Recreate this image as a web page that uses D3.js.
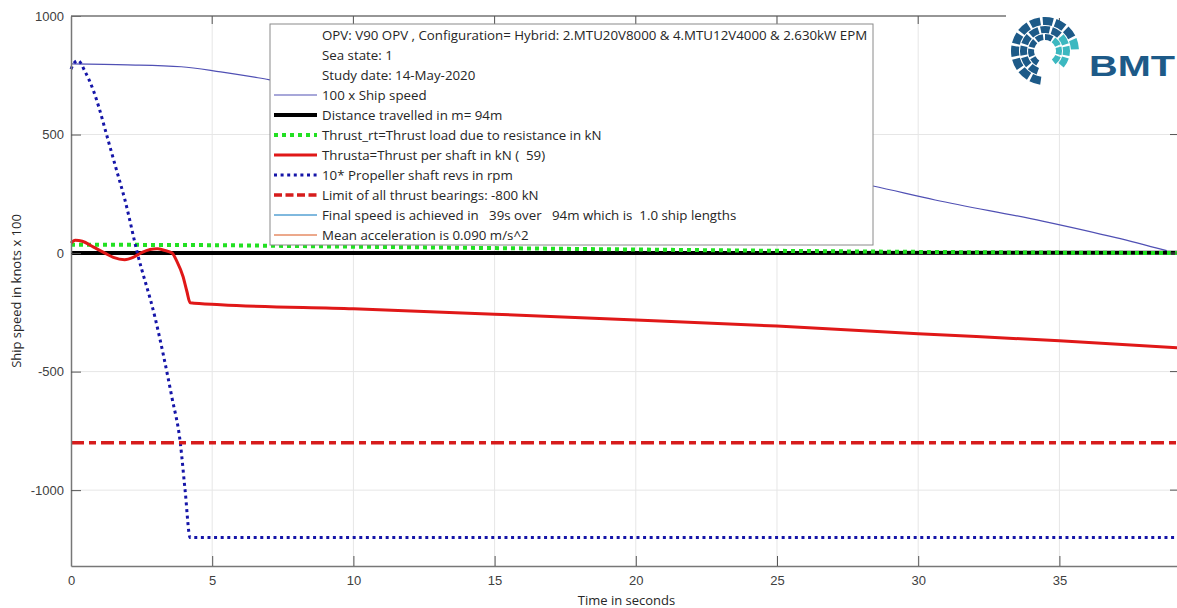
<!DOCTYPE html>
<html>
<head>
<meta charset="utf-8">
<script src="https://cdn.jsdelivr.net/npm/d3@7"></script>
<style>
  body { margin: 0; background: #fff; }
  svg { display: block; font-family: "Open Sans", sans-serif; }
  .tick text { fill: #404040; font-size: 13px; }
  .legend text { white-space: pre; }
</style>
</head>
<body>
<div id="chart"></div>
<script>
// series: [time in s, value]
const shipSpeed = [[0, 798], [2, 794], [3.9, 786], [5.3, 764], [7, 732], [10, 672], [15, 572],
  [20, 468], [25, 362], [28.4, 283], [30.6, 224], [34.4, 135], [37, 65], [38.8, 10]];
const distance = [[0, 0], [39.2, 1]];
const thrustRt = [[0, 35], [4, 34], [10, 27], [20, 15], [30, 5], [39.2, 0]];
const thrusta = [[0, 42], [0.15, 54], [0.4, 50], [0.8, 25], [1.2, 0], [1.5, -18], [1.9, -28],
  [2.2, -18], [2.5, 2], [2.8, 15], [3.05, 18], [3.3, 12], [3.58, 0], [3.75, -35], [3.97, -100],
  [4.1, -160], [4.22, -210], [5.3, -218], [10, -235], [15, -258], [20, -282], [25, -308],
  [30, -340], [35, -370], [39.2, -400]];
const shaftRevs = [[0, 776], [0.1, 800], [0.25, 812], [0.5, 765], [0.78, 690], [1.0, 610],
  [1.27, 495], [1.6, 355], [1.91, 224], [2.35, 0], [2.98, -274], [3.57, -607], [3.87, -800],
  [4.04, -1000], [4.22, -1200], [39.2, -1200]];
const bearingLimit = [[0, -800], [39.2, -800]];

const xTicks = [0, 5, 10, 15, 20, 25, 30, 35];
const yTicks = [-1000, -500, 0, 500, 1000];

const legendTitle = [
  "OPV: V90 OPV , Configuration= Hybrid: 2.MTU20V8000 & 4.MTU12V4000 & 2.630kW EPM",
  "Sea state: 1",
  "Study date: 14-May-2020"
];
const legendNames = [
  "100 x Ship speed",
  "Distance travelled in m= 94m",
  "Thrust_rt=Thrust load due to resistance in kN",
  "Thrusta=Thrust per shaft in kN (  59)",
  "10* Propeller shaft revs in rpm",
  "Limit of all thrust bearings: -800 kN",
  "Final speed is achieved in   39s over   94m which is  1.0 ship lengths",
  "Mean acceleration is 0.090 m/s^2"
];

const svgWidth = 1177;
const svgHeight = 608;
const margin = { top: 16, right: -1, bottom: 42, left: 71 };
const width = svgWidth - margin.left - margin.right;
const height = svgHeight - margin.top - margin.bottom;

const svg = d3.select("#chart").append("svg")
  .attr("width", svgWidth)
  .attr("height", svgHeight);

const chartGroup = svg.append("g")
  .attr("transform", `translate(${margin.left}, ${margin.top})`);

const x = d3.scaleLinear().domain([0, 39.2]).range([0, width]);
const y = d3.scaleLinear().domain([-1320, 1000]).range([height, 0]);

// grid
chartGroup.append("g")
  .selectAll("line")
  .data(xTicks.slice(1))
  .enter().append("line")
  .attr("x1", d => x(d)).attr("x2", d => x(d))
  .attr("y1", 0).attr("y2", height)
  .attr("stroke", "#e6e6e6");

chartGroup.append("g")
  .selectAll("line")
  .data(yTicks)
  .enter().append("line")
  .attr("x1", 0).attr("x2", width)
  .attr("y1", d => y(d)).attr("y2", d => y(d))
  .attr("stroke", "#e6e6e6");

// series
const line = d3.line().x(d => x(d[0])).y(d => y(d[1]));
const smooth = d3.line().x(d => x(d[0])).y(d => y(d[1])).curve(d3.curveMonotoneX);

const series = [
  { data: shipSpeed, color: "#5050b4", w: 1.2, dash: null, gen: smooth },
  { data: distance, color: "#000000", w: 4, dash: null, gen: line },
  { data: thrustRt, color: "#22e022", w: 4, dash: "4,4", gen: smooth },
  { data: thrusta, color: "#e01818", w: 3, dash: null, gen: smooth },
  { data: shaftRevs, color: "#1515a8", w: 3, dash: "3,3.6", gen: smooth },
  { data: bearingLimit, color: "#d61c1c", w: 3.5, dash: "13,5,7,5", gen: line }
];

series.forEach(s => {
  chartGroup.append("path")
    .datum(s.data)
    .attr("d", s.gen)
    .attr("fill", "none")
    .attr("stroke", s.color)
    .attr("stroke-width", s.w)
    .attr("stroke-dasharray", s.dash);
});

// axes with inner ticks, box
const fmt = d => String(d);
const bottomAxis = d3.axisBottom(x).tickValues(xTicks).tickFormat(fmt)
  .tickSizeInner(-10).tickSizeOuter(0).tickPadding(10);
const leftAxis = d3.axisLeft(y).tickValues(yTicks).tickFormat(fmt)
  .tickSizeInner(-10).tickSizeOuter(0).tickPadding(7);

const xAxis = chartGroup.append("g")
  .attr("transform", `translate(0, ${height})`)
  .call(bottomAxis);
const yAxis = chartGroup.append("g").call(leftAxis);

[xAxis, yAxis].forEach(a => {
  a.select(".domain").attr("stroke", "#777").attr("stroke-width", 1.5);
  a.selectAll(".tick line").attr("stroke", "#555");
});

chartGroup.append("line")
  .attr("x1", 0).attr("x2", width).attr("y1", 0).attr("y2", 0)
  .attr("stroke", "#777").attr("stroke-width", 1.5);
chartGroup.append("g")
  .selectAll("line")
  .data(xTicks.slice(1))
  .enter().append("line")
  .attr("x1", d => x(d)).attr("x2", d => x(d))
  .attr("y1", 0).attr("y2", 8)
  .attr("stroke", "#555");
chartGroup.append("g")
  .selectAll("line")
  .data(yTicks)
  .enter().append("line")
  .attr("x1", width - 8).attr("x2", width)
  .attr("y1", d => y(d)).attr("y2", d => y(d))
  .attr("stroke", "#555");

// axis labels
svg.append("text")
  .attr("transform", `translate(21, ${margin.top + height / 2}) rotate(-90)`)
  .attr("text-anchor", "middle")
  .attr("font-size", 13)
  .attr("fill", "#262626")
  .text("Ship speed in knots x 100");

svg.append("text")
  .attr("x", margin.left + width / 2 + 2)
  .attr("y", 605)
  .attr("text-anchor", "middle")
  .attr("font-size", 13)
  .attr("fill", "#262626")
  .text("Time in seconds");

// legend
const legend = svg.append("g").attr("class", "legend").attr("transform", "translate(270, 24)");
legend.append("rect")
  .attr("width", 603).attr("height", 221)
  .attr("fill", "#fff")
  .attr("stroke", "#8a8a8a");

const extraColors = [{ color: "#0072bd", w: 1 }, { color: "#d95319", w: 1 }];
const rows = legendTitle.map(t => ({ text: t, s: null }))
  .concat(legendNames.map((t, i) => ({ text: t, s: series[i] || extraColors[i - series.length] })));

rows.forEach((r, i) => {
  const cy = 11 + i * 20;
  if (r.s) {
    legend.append("line")
      .attr("x1", 4).attr("x2", 47)
      .attr("y1", cy).attr("y2", cy)
      .attr("stroke", r.s.color)
      .attr("stroke-width", Math.min(r.s.w, 4))
      .attr("stroke-dasharray", r.s.dash ? (r.s.dash === "13,5,7,5" ? "8,3.5" : r.s.dash) : null);
  }
  legend.append("text")
    .attr("x", 52).attr("y", cy + 4.5)
    .attr("font-size", 13.3)
    .attr("fill", "#262626")
    .attr("xml:space", "preserve")
    .text(r.text);
});

// BMT logo, covering the box edge on the top right
svg.append("rect")
  .attr("x", 1006).attr("y", 8).attr("width", 171).attr("height", 10)
  .attr("fill", "#fff");
const logo = svg.append("g").attr("transform", "translate(1045, 51)");
const arc = d3.arc();
const rings = [
  { r0: 11, r1: 17, a0: -2.6, a1: 2.6, split: 0.3, n: 8 },
  { r0: 18, r1: 25, a0: -2.8, a1: 2.4, split: 0.6, n: 10 },
  { r0: 26, r1: 34, a0: -3.0, a1: 1.6, split: 0.9, n: 11 }
];
rings.forEach(rg => {
  const step = (rg.a1 - rg.a0) / rg.n;
  d3.range(rg.n).forEach(k => {
    const a = rg.a0 + k * step;
    logo.append("path")
      .attr("d", arc({ innerRadius: rg.r0, outerRadius: rg.r1, startAngle: a, endAngle: a + step * 0.8 }))
      .attr("fill", a >= rg.split ? "#3cb8c0" : "#1d5a88");
  });
});
svg.append("text")
  .attr("x", 1089).attr("y", 76)
  .attr("font-family", "'Liberation Sans', Arial, sans-serif")
  .attr("font-weight", "bold")
  .attr("font-size", 30)
  .attr("textLength", 86)
  .attr("lengthAdjust", "spacingAndGlyphs")
  .attr("fill", "#1d5a88")
  .text("BMT");
</script>
</body>
</html>
